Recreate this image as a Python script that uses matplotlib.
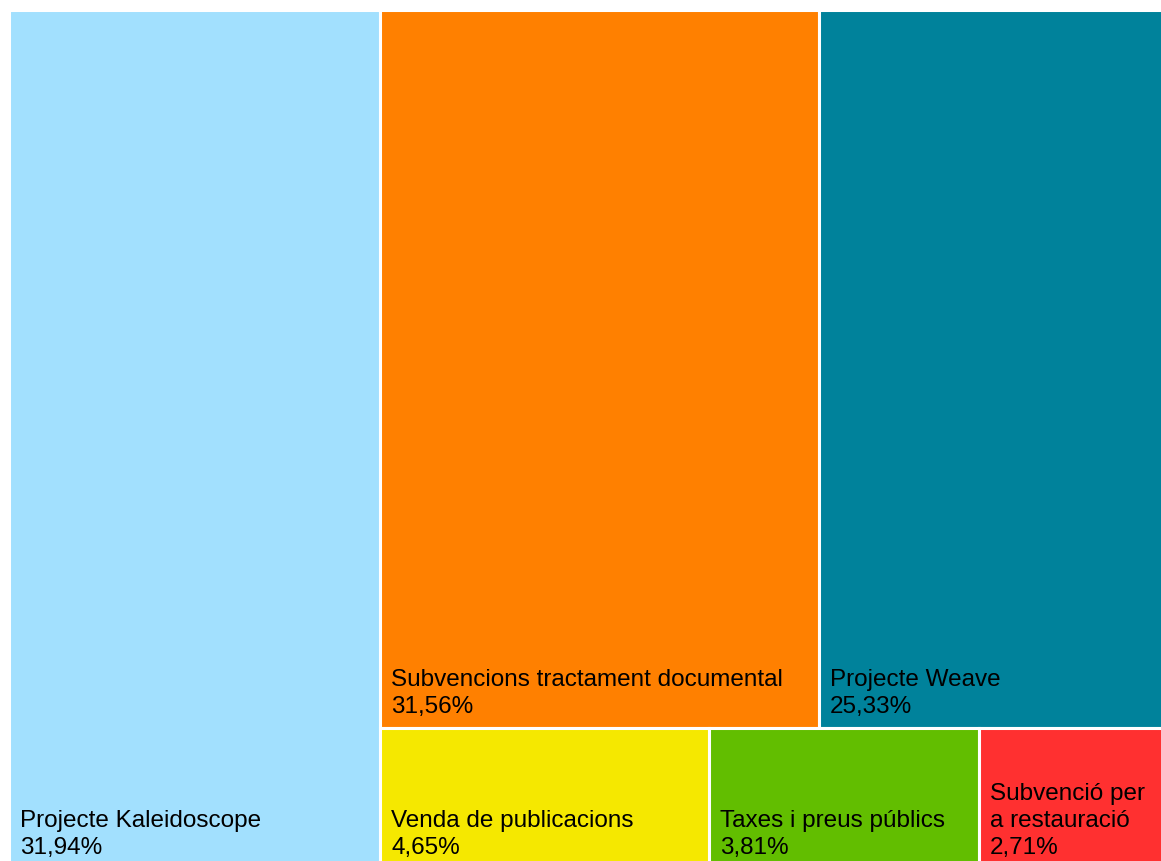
import matplotlib
matplotlib.use("Agg")
import matplotlib.pyplot as plt
from matplotlib.patches import Rectangle

labels = ["Projecte Kaleidoscope", "Subvencions tractament documental", "Projecte Weave",
          "Venda de publicacions", "Taxes i preus públics", "Subvenció per a restauració"]
shares = [31.94, 31.56, 25.33, 4.65, 3.81, 2.71]
colors = ["#A2E0FE", "#FF8000", "#00829B", "#F5E800", "#62BE00", "#FF3030"]

# layout: first item is a full-height column, the rest go in two rows
rows = [[1, 2], [3, 4, 5]]

W, H = 1161, 861
x0, y0, x1, y1 = 9, 10, 1171, 869   # plot region in pixels (runs slightly past the edges)
FS = 17.45
PAD_X, PAD_Y = 11, 10

fig = plt.figure(figsize=(W / 100, H / 100), dpi=100)
ax = fig.add_axes([0, 0, 1, 1])
ax.set_xlim(0, W)
ax.set_ylim(H, 0)
ax.axis("off")
renderer = fig.canvas.get_renderer()

def text_width(s):
    t = ax.text(0, 0, s, fontsize=FS, family="Liberation Sans")
    w = t.get_window_extent(renderer).width
    t.remove()
    return w

def wrap(s, maxw):
    words = s.split()
    lines, cur = [], ""
    for w in words:
        trial = (cur + " " + w).strip()
        if cur and text_width(trial) > maxw:
            lines.append(cur)
            cur = w
        else:
            cur = trial
    lines.append(cur)
    return "\n".join(lines)

def draw(i, x, y, w, h):
    ax.add_patch(Rectangle((x, y), w, h, facecolor=colors[i], edgecolor="white", linewidth=2.2))
    name = wrap(labels[i], w - 2 * PAD_X)
    txt = name + "\n" + f"{shares[i]:.2f}".replace(".", ",") + "%"
    ax.text(x + PAD_X, y + h - PAD_Y, txt, fontsize=FS, family="Liberation Sans",
            ha="left", va="bottom", color="black", linespacing=1.29)

total = sum(shares)
cw = (x1 - x0) * shares[0] / total
draw(0, x0, y0, cw, y1 - y0)

rest = total - shares[0]
rx = x0 + cw
rw = x1 - rx
cy = y0
for row in rows:
    rsum = sum(shares[i] for i in row)
    rh = (y1 - y0) * rsum / rest
    cx = rx
    for i in row:
        w = rw * shares[i] / rsum
        draw(i, cx, cy, w, rh)
        cx += w
    cy += rh

fig.savefig("out.png", dpi=100, facecolor="white")
